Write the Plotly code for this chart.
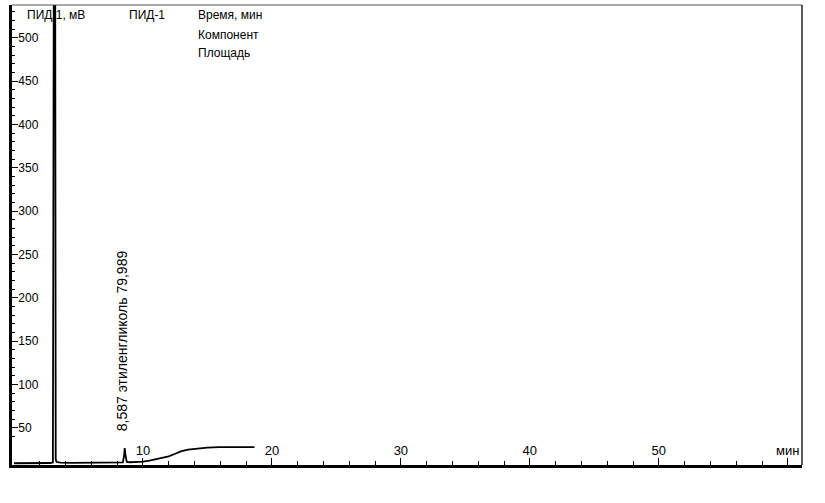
import plotly.graph_objects as go

# ---- data ----
time_min = [0.0, 1.0, 2.0, 2.8, 3.02, 3.07, 3.13, 3.19, 3.24, 3.3, 3.6, 4.5, 5.5, 6.5, 7.5, 8.3,
            8.45, 8.55, 8.59, 8.65, 8.75, 9.0, 9.5, 10.0, 10.5, 11.0, 11.5, 12.0, 12.5,
            13.0, 13.5, 14.0, 14.4, 15.0, 15.9, 17.0, 18.0, 18.65]
signal_mv = [9.0, 9.0, 9.2, 9.3, 10.0, 700.0, 900.0, 700.0, 14.0, 10.5, 9.8, 9.5, 9.6, 9.5, 9.6, 9.8,
             10.0, 19.0, 26.5, 18.0, 10.5, 10.2, 10.5, 11.0, 12.0, 13.5, 15.0, 17.0, 20.0,
             23.0, 24.8, 25.8, 26.6, 27.1, 27.7, 27.8, 27.7, 27.7]

x_tick_vals = [10, 20, 30, 40, 50, 60]
x_tick_text = ["10", "20", "30", "40", "50", "мин"]
y_tick_vals = [50, 100, 150, 200, 250, 300, 350, 400, 450, 500]

peak_label = "8,587 этиленгликоль 79,989"
peak_time = 8.587

FONT = "Liberation Sans Narrow, Arial Narrow, Liberation Sans, Arial, sans-serif"

fig = go.Figure()
fig.add_trace(go.Scatter(x=time_min, y=signal_mv, mode="lines",
                         line=dict(color="black", width=1.8), hoverinfo="skip",
                         showlegend=False))

# pixel helpers for text placement (plot area 12..802 x, 5..465 y)
L, R, T, B = 12, 802, 5, 465
def px(x):
    return (x - L) / (R - L)
def py(y):
    return (B - y) / (B - T)

annotations = [
    dict(text="ПИД 1, мВ", x=px(25), y=py(15)),
    dict(text="ПИД-1", x=px(127), y=py(15)),
    dict(text="Время, мин", x=px(196), y=py(15)),
    dict(text="Компонент", x=px(196), y=py(35)),
    dict(text="Площадь", x=px(196), y=py(53)),
]
for a in annotations:
    a.update(xref="paper", yref="paper", xanchor="left", yanchor="middle",
             showarrow=False, font=dict(family=FONT, size=12, color="black"))

annotations.append(dict(text=peak_label, x=peak_time, xref="x", xshift=-3,
                        y=py(433), yref="paper", textangle=-90,
                        xanchor="center", yanchor="bottom", showarrow=False,
                        font=dict(family=FONT, size=14, color="black")))

fig.update_layout(
    width=825, height=503,
    margin=dict(l=L, r=825 - R, t=T, b=503 - B),
    paper_bgcolor="white", plot_bgcolor="white",
    annotations=annotations,
    shapes=[
        dict(type="line", xref="paper", yref="paper", x0=0, x1=1, y0=1, y1=1,
             line=dict(color="#555", width=1)),
        dict(type="line", xref="paper", yref="paper", x0=1, x1=1, y0=0, y1=1,
             line=dict(color="#222", width=1.5)),
    ],
    xaxis=dict(range=[-0.15, 61.1], showgrid=False, zeroline=False,
               showline=True, linecolor="black", linewidth=2.5,
               tickvals=x_tick_vals, ticktext=x_tick_text,
               ticks="inside", ticklen=7, tickwidth=1.2, tickcolor="black",
               ticklabelposition="inside",
               tickfont=dict(family=FONT, size=13, color="black"),
               minor=dict(dtick=2, tick0=0, ticks="inside", ticklen=4,
                          tickwidth=1, tickcolor="black")),
    yaxis=dict(range=[7, 538], showgrid=False, zeroline=False,
               showline=True, linecolor="black", linewidth=2.5,
               tickvals=y_tick_vals,
               ticks="inside", ticklen=6, tickwidth=1.2, tickcolor="black",
               ticklabelposition="inside",
               tickfont=dict(family=FONT, size=12, color="black"),
               minor=dict(dtick=10, tick0=0, ticks="inside", ticklen=3,
                          tickwidth=1, tickcolor="black")),
)

fig.write_html("out.html", config={"displayModeBar": False},
               post_script="document.body.style.margin='0';document.body.style.padding='0';")
